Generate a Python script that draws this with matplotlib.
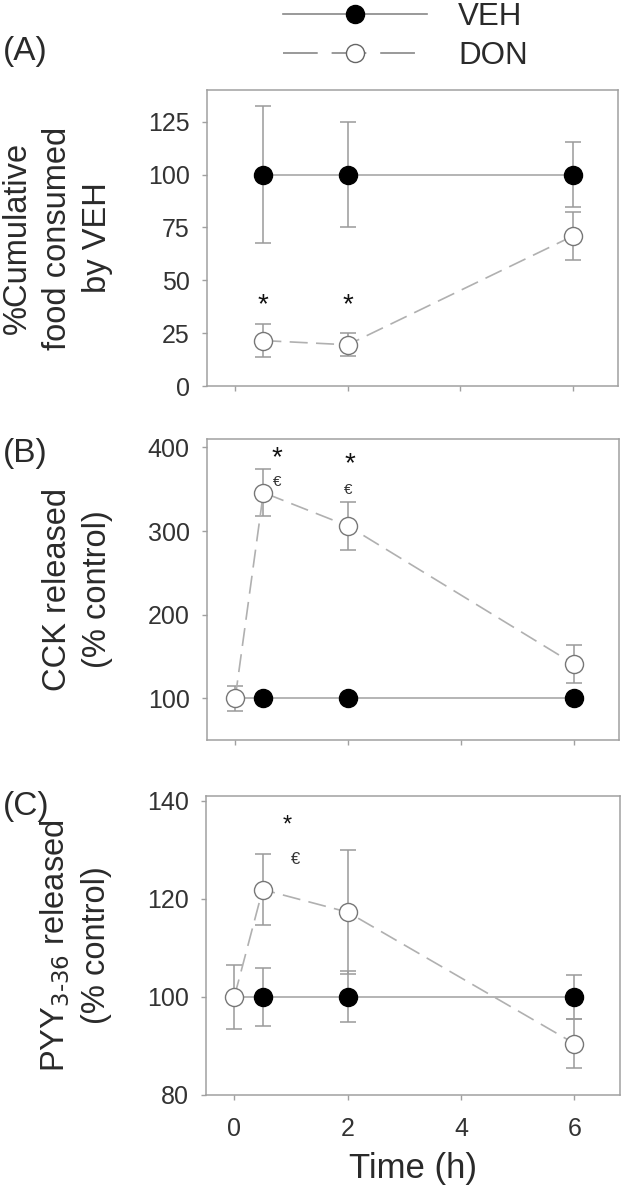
import matplotlib
matplotlib.use('Agg')
import matplotlib.pyplot as plt
from matplotlib.lines import Line2D

plt.rcParams['font.family'] = ['Liberation Sans', 'DejaVu Sans']
plt.rcParams['lines.scale_dashes'] = False

# panel A - cumulative food intake
t_a = [0.5, 2, 6]
veh_a = [100, 100, 100]
veh_a_err = [32.5, 25, 15.5]
don_a = [21.5, 19.5, 71]
don_a_err = [8, 5.5, 11.5]

# panels B and C share the time points
t_bc = [0, 0.5, 2, 6]
veh_b = [100, 100, 100, 100]
veh_b_err = [0, 0, 0, 0]
don_b = [100, 346, 306, 141]
don_b_err = [15, 28, 29, 23]

veh_c = [100, 100, 100, 100]
veh_c_err = [0, 5.9, 5.2, 4.4]
don_c = [100, 121.9, 117.3, 90.5]
don_c_err = [6.6, 7.2, 12.6, 5]

# significance marks (x, y)
star_a = [(0.5, 38), (2, 38)]
star_b = [(0.74, 387), (2.03, 380)]
euro_b = [(0.74, 359), (2.0, 349)]
star_c = [(0.94, 135)]
euro_c = [(1.08, 128)]

xticks = [0, 2, 4, 6]
yticks_a = [0, 25, 50, 75, 100, 125]
yticks_b = [100, 200, 300, 400]
yticks_c = [80, 100, 120, 140]

grey = '#9a9a9a'
dgrey = '#777777'
txt = '#2a2a2a'

fig = plt.figure(figsize=(6.24, 12), dpi=100)
ax_a = fig.add_axes([0.3317, 0.6783, 0.659, 0.2467])
ax_b = fig.add_axes([0.3317, 0.3833, 0.660, 0.2508])
ax_c = fig.add_axes([0.3301, 0.0875, 0.663, 0.2492])


def panel(ax, t, veh, veh_err, don, don_err, hide_first=False):
    ax.errorbar(t, veh, yerr=veh_err, fmt='none', ecolor=grey, elinewidth=1.1,
                capsize=5.5, capthick=1.1, zorder=2)
    ax.errorbar(t, don, yerr=don_err, fmt='none', ecolor=grey, elinewidth=1.1,
                capsize=5.5, capthick=1.1, zorder=2)
    mk = list(range(1, len(t))) if hide_first else None
    ax.plot(t, veh, color='#a8a8a8', lw=1.2, marker='o', ms=13, mfc='black',
            mec='black', markevery=mk, zorder=3)
    ax.plot(t, don, color='#b0b0b0', lw=1.2, dashes=(13, 6), marker='o', ms=13,
            mfc='white', mec=dgrey, mew=1.0, zorder=4)
    ax.set_xlim(-0.5, 6.8)
    ax.set_xticks(xticks)
    for s in ax.spines.values():
        s.set_color('#a0a0a0')
        s.set_linewidth(1.1)
    ax.tick_params(direction='out', length=3.5, width=1.0, color='#a0a0a0',
                   labelsize=18, labelcolor='#333333')
    ax.tick_params(axis='y', pad=9)
    ax.tick_params(axis='x', pad=12)


panel(ax_a, t_a, veh_a, veh_a_err, don_a, don_a_err)
panel(ax_b, t_bc, veh_b, veh_b_err, don_b, don_b_err, hide_first=True)
panel(ax_c, t_bc, veh_c, veh_c_err, don_c, don_c_err, hide_first=True)

ax_a.set_ylim(0, 140)
ax_a.set_yticks(yticks_a)
ax_b.set_ylim(50, 410)
ax_b.set_yticks(yticks_b)
ax_c.set_ylim(80, 141)
ax_c.set_yticks(yticks_c)
ax_a.set_xticklabels([])
ax_b.set_xticklabels([])

for x, y in star_a:
    ax_a.text(x, y, '*', ha='center', va='center', fontsize=20, color='#111111')
for x, y in star_b:
    ax_b.text(x, y, '*', ha='center', va='center', fontsize=20, color='#111111')
for x, y in euro_b:
    ax_b.text(x, y, '€', ha='center', va='center', fontsize=11, color='#333333')
for x, y in star_c:
    ax_c.text(x, y, '*', ha='center', va='center', fontsize=17, color='#111111')
for x, y in euro_c:
    ax_c.text(x, y, '€', ha='center', va='center', fontsize=12, color='#333333')

ylab = dict(fontsize=23.5, color=txt, labelpad=25, linespacing=1.38)
ax_a.set_ylabel('%Cumulative\nfood consumed\nby VEH', **ylab)
ax_b.set_ylabel('CCK released\n(% control)', **ylab)
ax_c.set_ylabel('PYY$_{3\\text{-}36}$ released\n(% control)', **ylab)
ax_c.set_xlabel('Time (h)', fontsize=25, color=txt, labelpad=8)

fig.text(0.005, 0.9567, '(A)', fontsize=24, color=txt, va='center')
fig.text(0.005, 0.6217, '(B)', fontsize=24, color=txt, va='center')
fig.text(0.005, 0.3283, '(C)', fontsize=24, color=txt, va='center')

handles = [
    Line2D([], [], color='#888888', lw=1.2, marker='o', ms=13, mfc='black', mec='black'),
    Line2D([], [], color='#888888', lw=1.2, dashes=(25, 10), marker='o', ms=13,
           mfc='white', mec='#666666'),
]
fig.legend(handles, ['VEH', 'DON'], loc='upper left', bbox_to_anchor=(283 / 624, 0.9985),
           frameon=False, fontsize=22.5, handlelength=4.6, handletextpad=1.0,
           labelspacing=0.3, borderpad=0, borderaxespad=0, labelcolor=txt)

fig.savefig('out.png', dpi=100)
